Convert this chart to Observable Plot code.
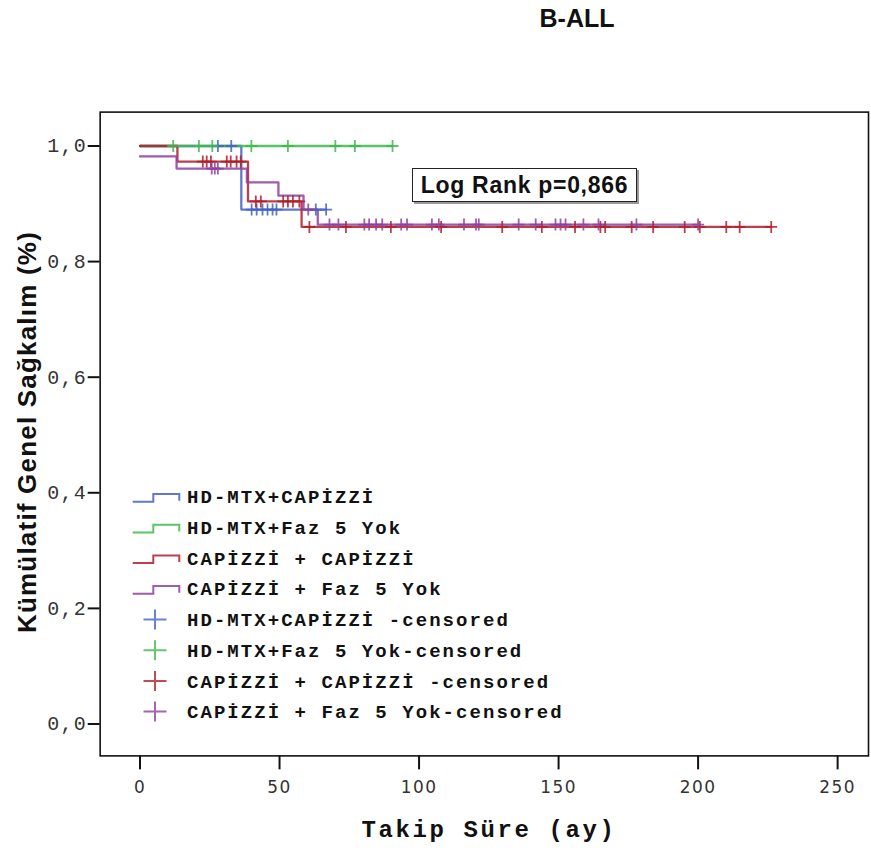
<!DOCTYPE html>
<html><head><meta charset="utf-8">
<script src="https://cdn.jsdelivr.net/npm/d3@7"></script>
<script src="https://cdn.jsdelivr.net/npm/@observablehq/plot@0.6"></script>
<style>
html,body{margin:0;padding:0;background:#fff;overflow:hidden;width:871px;height:850px}
#wrap{position:relative;width:871px;height:850px;overflow:hidden}
#chart{position:absolute;left:0;top:0}
#title{position:absolute;left:577px;top:18px;transform:translate(-50%,-50%);font:bold 25px "Liberation Sans",Arial,sans-serif;color:#111;white-space:nowrap}
#ytitle{position:absolute;left:27px;top:432px;transform:translate(-50%,-50%) rotate(-90deg);font:bold 26px "Liberation Sans",Arial,sans-serif;letter-spacing:1.2px;color:#111;white-space:nowrap}
#xtitle{position:absolute;left:489px;top:830px;transform:translate(-50%,-50%);font:bold 24px "Liberation Mono","Courier New",monospace;letter-spacing:2.6px;color:#111;white-space:nowrap}
#logrank{position:absolute;left:412px;top:168px;width:225px;height:34px;box-sizing:border-box;border:1.5px solid #222;box-shadow:2px 2px 0 #999;background:#fff;font:bold 23px "Liberation Sans",Arial,sans-serif;letter-spacing:0.7px;color:#111;display:flex;align-items:center;justify-content:center;white-space:nowrap}
#legend{position:absolute;left:0;top:0}
g[aria-label="y-axis tick label"] text{letter-spacing:1.4px}
g[aria-label="x-axis tick label"] text{letter-spacing:1.5px}
</style></head><body>
<div id="wrap">
  <div id="chart"></div>
  <div id="title">B-ALL</div>
  <div id="ytitle">Kümülatif Genel Sağkalım (%)</div>
  <div id="xtitle">Takip Süre (ay)</div>
  <div id="logrank">Log Rank p=0,866</div>
  <svg id="legend" width="871" height="850"></svg>
</div>
<script>
// ---- data ----
const groups = ["HD-MTX+CAPİZZİ", "HD-MTX+Faz 5 Yok", "CAPİZZİ + CAPİZZİ", "CAPİZZİ + Faz 5 Yok"];
const censLabels = ["HD-MTX+CAPİZZİ -censored", "HD-MTX+Faz 5 Yok-censored", "CAPİZZİ + CAPİZZİ -censored", "CAPİZZİ + Faz 5 Yok-censored"];
const colors = ["#4262c6", "#3dba4c", "#b01f2a", "#8f3f9f"];

// step curves: time (months) and survival after that time
const blueT = [0, 36.3, 66.7];
const blueS = [1.000, 0.890, 0.890];
const greenT = [0, 90.5];
const greenS = [1.000, 1.000];
const redT = [0, 13.4, 38.7, 57.9, 226.2];
const redS = [1.000, 0.973, 0.904, 0.860, 0.860];
const purpleT = [0, 13.1, 38.3, 49.6, 58.6, 63.7, 200.0];
const purpleS = [0.982, 0.961, 0.937, 0.914, 0.890, 0.864, 0.864];

// censored times
const blueCens = [27.9, 32.7, 40.0, 41.8, 43.9, 45.7, 47.5, 48.9, 63.0, 66.7];
const greenCens = [11.9, 21.1, 25.9, 39.9, 53.0, 70.0, 77.0, 90.5];
const redCens = [22.5, 23.9, 25.4, 31.1, 32.5, 34.6, 36.1, 41.5, 43.3, 51.3, 53.0, 54.8, 57.1,
  60.7, 73.8, 89.9, 107.9, 129.8, 144.0, 155.9, 165.0, 166.7, 176.2, 183.9, 195.2, 200.6, 210.1, 214.9, 226.2];
const purpleCens = [25.7, 26.8, 27.9, 60.3, 67.9, 71.1, 80.4, 82.1, 84.6, 86.8, 93.6, 95.7, 104.6, 107.1,
  116.1, 120.4, 121.4, 135.7, 141.8, 148.9, 150.7, 152.5, 158.9, 164.3, 177.9, 200.0];

const xTicks = [0, 50, 100, 150, 200, 250];
const yTicks = [0, 0.2, 0.4, 0.6, 0.8, 1.0];

// ---- build tables ----
const curves = [[blueT, blueS], [greenT, greenS], [redT, redS], [purpleT, purpleS]];
const cens = [blueCens, greenCens, redCens, purpleCens];
function survAt(T, S, t) { let s = S[0]; for (let i = 0; i < T.length; i++) if (T[i] <= t) s = S[i]; return s; }
const lineRows = [];
curves.forEach(([T, S], i) => T.forEach((t, j) => lineRows.push({g: groups[i], t, s: S[j]})));
const censRows = [];
cens.forEach((C, i) => C.forEach(t => censRows.push({g: groups[i], t, s: survAt(curves[i][0], curves[i][1], t)})));

const plusSym = {draw(ctx, size) { const r = Math.sqrt(size / Math.PI); ctx.moveTo(-r, 0); ctx.lineTo(r, 0); ctx.moveTo(0, -r); ctx.lineTo(0, r); }};

const chart = Plot.plot({
  width: 874, height: 850,
  marginLeft: 100, marginRight: 3, marginTop: 112, marginBottom: 92,
  style: {background: "transparent", color: "#111", overflow: "visible"},
  x: {domain: [-14.2857, 261.07]},
  y: {domain: [-0.0552, 1.0586]},
  color: {domain: groups, range: colors},
  marks: [
    Plot.line(lineRows, {x: "t", y: "s", z: "g", stroke: "g", curve: "step-after", strokeWidth: 2.3, strokeOpacity: 0.85}),
    Plot.dot(censRows, {x: "t", y: "s", stroke: "g", fill: "none", symbol: plusSym, r: 6, strokeWidth: 1.8, strokeOpacity: 0.85}),
    Plot.frame({stroke: "#111", strokeWidth: 1.6}),
    Plot.axisY({ticks: yTicks, tickSize: 12, tickPadding: 1, tickFormat: d => d3.format(".1f")(d).replace(".", ","),
      fontFamily: "Liberation Mono", fontSize: 20, fill: "#333", strokeWidth: 2, label: null}),
    Plot.axisX({ticks: xTicks, tickSize: 14, tickPadding: 11, tickFormat: d => String(d),
      fontFamily: "DejaVu Sans", fontSize: 17, fill: "#333", strokeWidth: 2, label: null})
  ]
});
document.getElementById("chart").appendChild(chart);

// ---- legend ----
const lg = d3.select("#legend");
const row0 = 496.7, rowStep = 30.7;
groups.forEach((g, i) => {
  const y = row0 + i * rowStep;
  lg.append("path").attr("d", `M132.7,${y + 5}H153.3V${y - 2.7}H179.3V${y + 4}`)
    .attr("fill", "none").attr("stroke", colors[i]).attr("stroke-width", 2).attr("stroke-opacity", 0.85);
  lg.append("text").attr("x", 187).attr("y", y).attr("dy", "0.35em").text(g);
});
censLabels.forEach((g, i) => {
  const y = row0 + (i + 4) * rowStep;
  lg.append("path").attr("d", `M143.5,${y}H166.5M155,${y - 10}V${y + 10}`)
    .attr("fill", "none").attr("stroke", colors[i]).attr("stroke-width", 2).attr("stroke-opacity", 0.8);
  lg.append("text").attr("x", 187).attr("y", y).attr("dy", "0.35em").text(g);
});
lg.selectAll("text").attr("font-family", "Liberation Mono").attr("font-weight", "bold")
  .attr("font-size", 19).attr("letter-spacing", "2.05px").attr("fill", "#111");
</script>
</body></html>
